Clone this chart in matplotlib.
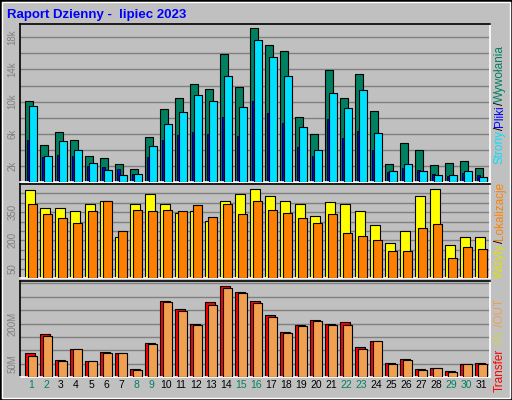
import numpy as np
import matplotlib.pyplot as plt
from matplotlib.patches import Rectangle

plt.rcParams['font.family'] = ['Liberation Sans', 'DejaVu Sans']

days = np.arange(1, 32)
weekend = [1, 2, 8, 9, 15, 16, 22, 23, 29, 30]

hits = [10040, 4630, 6250, 5250, 3250, 3000, 2250, 1630, 5630, 9130, 10500, 12250, 11630, 15880, 11880,
        19130, 17000, 16250, 8130, 6000, 13880, 10500, 13380, 8880, 2250, 4880, 4000, 2130, 2380, 2630, 1750]
files = [9500, 3250, 5130, 4000, 2380, 1500, 880, 1000, 4500, 7250, 8750, 10880, 10130, 13130, 9380,
         17630, 15500, 13130, 6880, 4000, 11130, 9250, 11500, 6130, 1380, 2250, 1380, 880, 880, 1380, 630]
pages = [5250, 3080, 3380, 3250, 2000, 1880, 1630, 1000, 3130, 5250, 5880, 6250, 6000, 8130, 5750,
         10130, 8630, 7380, 4380, 3250, 7880, 5500, 6380, 4000, 1250, 1750, 1500, 1000, 750, 1130, 880]
visits = [466, 375, 370, 354, 396, 412, 220, 396, 445, 391, 348, 359, 305, 412, 445,
          471, 434, 412, 396, 332, 402, 391, 359, 284, 188, 252, 434, 471, 177, 220, 220]
sites = [391, 338, 321, 295, 359, 412, 252, 364, 354, 364, 354, 386, 327, 391, 343,
         407, 364, 348, 321, 295, 343, 241, 225, 204, 145, 145, 268, 289, 107, 166, 155]
transfer = [88, 159, 65, 106, 61, 95, 91, 31, 129, 283, 253, 200, 279, 339, 316,
            286, 230, 170, 193, 215, 200, 204, 114, 136, 54, 69, 31, 35, 24, 50, 54]
t_out = [80, 155, 61, 106, 61, 91, 88, 28, 125, 279, 245, 193, 271, 331, 313,
         275, 223, 163, 189, 211, 193, 196, 106, 133, 50, 65, 28, 35, 20, 50, 50]
t_in = [3, 3, 2, 2, 2, 2, 2, 2, 3, 4, 4, 3, 4, 5, 4, 5, 4, 4, 3, 3, 4, 3, 3, 3, 2, 2, 2, 2, 2, 2, 2]

BG = '#c0c0c0'
W, H = 512, 400
fig = plt.figure(figsize=(5.12, 4.0), dpi=100, facecolor=BG)

def fig_rect(x0, y0, x1, y1):
    return [x0 / W, 1 - y1 / H, (x1 - x0) / W, (y1 - y0) / H]

# outer 3D border
fig.patches.append(Rectangle((0, 0), 1, 1, transform=fig.transFigure, fill=False,
                             edgecolor='black', lw=2))
fig.patches.append(Rectangle((2 / W, 2 / H), 1 - 4 / W, 1 - 4 / H, transform=fig.transFigure,
                             fill=False, edgecolor='white', lw=1))

fig.text(7 / W, 1 - 15 / H, 'Raport Dzienny -  lipiec 2023', color='#0000ff',
         fontsize=9.5, fontweight='bold', va='center', ha='left')

def setup(ax, ymax, step, labels, fmt):
    ax.set_facecolor(BG)
    ax.set_xlim(0.667, 32)
    ax.set_ylim(0, ymax)
    for v in np.arange(step, ymax, step):
        ax.axhline(v, color='#808080', lw=1, zorder=0)
    ax.set_xticks([])
    ax.set_yticks(labels)
    ax.set_yticklabels([fmt(v) for v in labels], rotation=90, va='center',
                       fontsize=7, color='#808080')
    ax.tick_params(axis='y', length=0, pad=2)
    for s in ['top', 'left']:
        ax.spines[s].set_color('black')
    for s in ['bottom', 'right']:
        ax.spines[s].set_color('white')
    for s in ax.spines.values():
        s.set_linewidth(1.2)

ax1 = fig.add_axes(fig_rect(20, 24, 490, 182))
setup(ax1, 19660, 2000, [2000, 6000, 10000, 14000, 18000], lambda v: f'{v // 1000}k')
ax1.bar(days, hits, width=0.53, align='edge', color='#008060', edgecolor='black', lw=0.8, zorder=2)
ax1.bar(days + 0.27, files, width=0.53, align='edge', color='#00e0ff', edgecolor='black', lw=0.8, zorder=3)
ax1.bar(days + 0.13, pages, width=0.2, align='edge', color='#0000ff', edgecolor='black', lw=0.6, zorder=2.5)

ax2 = fig.add_axes(fig_rect(20, 184, 490, 278))
setup(ax2, 500, 50, [50, 200, 350], lambda v: f'{v}')
ax2.bar(days, visits, width=0.67, align='edge', color='#ffff00', edgecolor='black', lw=0.8, zorder=2)
ax2.bar(days + 0.2, sites, width=0.6, align='edge', color='#ff8000', edgecolor='black', lw=0.8, zorder=3)

ax3 = fig.add_axes(fig_rect(20, 281, 490, 377))
setup(ax3, 359, 50, [50, 200], lambda v: f'{v}M')
ax3.bar(days, transfer, width=0.67, align='edge', color='#ff0000', edgecolor='black', lw=0.8, zorder=2)
ax3.bar(days + 0.13, t_in, width=0.15, align='edge', color='#ffff00', edgecolor='black', lw=0.5, zorder=2.5)
ax3.bar(days + 0.2, t_out, width=0.6, align='edge', color='#f0a050', edgecolor='black', lw=0.8, zorder=3)

for d in days:
    ax3.text(d + 0.4, -0.028, str(d), transform=ax3.get_xaxis_transform(), ha='center', va='top',
             fontsize=7.5, color='#008060' if d in weekend else 'black')

# right-side legends, stacked pieces bottom-to-top
def vlabel(x, y_bottom, pieces):
    fig.canvas.draw()
    r = fig.canvas.get_renderer()
    y = 1 - y_bottom / H
    for txt, col in pieces:
        t = fig.text(x / W, y, txt, color=col, rotation=90, fontsize=8.5,
                     ha='center', va='bottom')
        bb = t.get_window_extent(renderer=r)
        y += bb.height / (H * fig.dpi / 100)

vlabel(500, 164, [('Strony', '#00e0ff'), ('/', 'black'), ('Pliki', '#0000ff'), ('/', 'black'),
                  ('Wywołania', '#008060')])
vlabel(500, 278, [('Wizyty', '#e0e000'), ('/', 'black'), ('Lokalizacje', '#ff8000')])
vlabel(500, 392, [('Transfer', '#ff0000'), (' /IN', '#d0d060'), (' /OUT', '#f0a050')])

fig.savefig('out.png', dpi=100, facecolor=BG)
